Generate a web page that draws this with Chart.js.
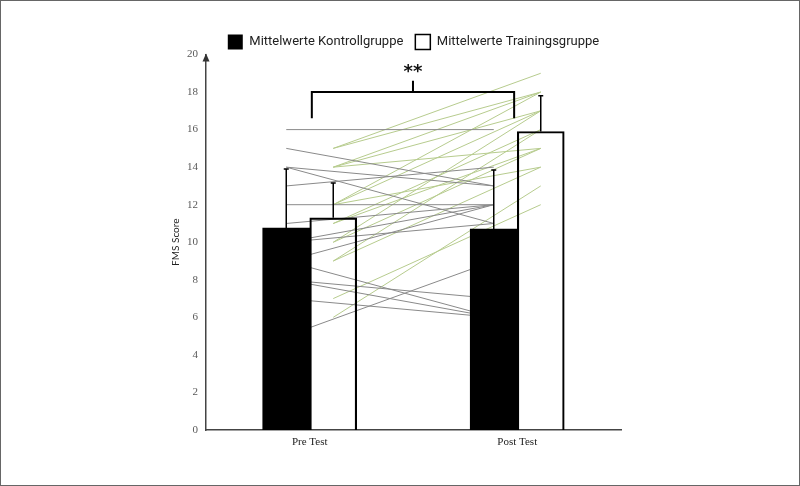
<!DOCTYPE html>
<html lang="de">
<head>
<meta charset="UTF-8">
<title>FMS Score</title>
<style>
  html, body { margin: 0; padding: 0; background: #fff; }
  #wrap { width: 800px; height: 486px; position: relative; }
</style>
</head>
<body>
<div id="wrap"><canvas id="fmsChart"></canvas></div>

<script src="https://cdn.jsdelivr.net/npm/chart.js"></script>
<script>
// --- data ---
const categories = ['Pre Test', 'Post Test'];
const meanKontroll = [10.75, 10.7];
const meanTraining = [11.3, 15.9];
const sdKontroll = [3.15, 3.15];
const sdTraining = [1.85, 1.9];

// individual scores (pre -> post)
const kontrollPre  = [16, 15, 14, 14, 13, 12, 11, 10, 10, 9, 9, 8, 8, 7, 5];
const kontrollPost = [16, 13, 13, 11, 14, 12, 12, 12, 11, 12, 6, 7, 6, 6, 9];
const trainingPre  = [15, 15, 14, 14, 14, 12, 12, 12, 11, 11, 10, 10, 9, 9, 7, 6];
const trainingPost = [19, 18, 18, 17, 15, 18, 17, 14, 16, 15, 17, 15, 16, 14, 12, 13];

const sigLabel = '**';

// --- layout / style ---
const catPct = 0.453;
const off = catPct / 4;   // bar centre offset inside a category

const atCat = (vals, shift) => vals.map((v, i) => ({x: i + shift, y: v}));

const datasets = [
  {
    label: 'Mittelwerte Kontrollgruppe',
    data: atCat(meanKontroll, -off),
    xAxisID: 'xl',
    backgroundColor: '#000',
    borderWidth: 0,
    order: 0
  },
  {
    label: 'Mittelwerte Trainingsgruppe',
    data: atCat(meanTraining, off),
    xAxisID: 'xl',
    backgroundColor: 'rgba(255,255,255,0)',
    borderColor: '#000',
    borderWidth: 1.5,
    order: 0
  }
];

function addLines(pre, post, shift, color) {
  pre.forEach((v, i) => {
    datasets.push({
      type: 'line',
      xAxisID: 'xl',
      data: [{x: 0 + shift, y: v}, {x: 1 + shift, y: post[i]}],
      borderColor: color,
      borderWidth: 1,
      pointRadius: 0,
      order: 2
    });
  });
}
addLines(kontrollPre, kontrollPost, -off, '#8a8a8a');
addLines(trainingPre, trainingPost, off, '#b7cc8e');

const decor = {
  id: 'decor',
  beforeDraw(chart) {
    const ctx = chart.ctx;
    ctx.save();
    ctx.fillStyle = '#fff';
    ctx.fillRect(0, 0, chart.width, chart.height);
    ctx.restore();
  },
  afterLayout(chart) {
    // drop the legend a bit closer to the plot
    const l = chart.legend;
    const shift = 34.5 - (l.top + l.options.labels.padding);
    l.top += shift;
    l.bottom += shift;
  },
  afterDatasetsDraw(chart) {
    const ctx = chart.ctx;
    const y = chart.scales.y;
    const xl = chart.scales.xl;
    ctx.save();
    ctx.strokeStyle = '#000';
    ctx.lineWidth = 1.5;
    [[0, meanKontroll, sdKontroll], [1, meanTraining, sdTraining]].forEach(([di, mean, sd]) => {
      chart.getDatasetMeta(di).data.forEach((bar, i) => {
        const top = y.getPixelForValue(mean[i] + sd[i]);
        ctx.beginPath();
        ctx.moveTo(bar.x, bar.y);
        ctx.lineTo(bar.x, top);
        ctx.moveTo(bar.x - 2.5, top);
        ctx.lineTo(bar.x + 2.5, top);
        ctx.stroke();
      });
    });

    // significance bracket
    const xa = xl.getPixelForValue(0.01);
    const xb = xl.getPixelForValue(0.985);
    const xm = (xa + xb) / 2;
    const yLow = y.getPixelForValue(16.6);
    const yBar = y.getPixelForValue(18);
    const yTick = y.getPixelForValue(18.6);
    ctx.lineWidth = 2;
    ctx.beginPath();
    ctx.moveTo(xa, yLow);
    ctx.lineTo(xa, yBar);
    ctx.lineTo(xb, yBar);
    ctx.lineTo(xb, yLow);
    ctx.moveTo(xm, yBar);
    ctx.lineTo(xm, yTick);
    ctx.stroke();
    ctx.fillStyle = '#111';
    ctx.font = 'bold 18px "DejaVu Sans"';
    ctx.textAlign = 'center';
    ctx.textBaseline = 'alphabetic';
    ctx.fillText(sigLabel, xm, yTick - 4);
    ctx.restore();
  },
  afterDraw(chart) {
    const ctx = chart.ctx;
    const a = chart.chartArea;
    ctx.save();
    // arrow on top of y axis
    ctx.fillStyle = '#333';
    ctx.beginPath();
    ctx.moveTo(a.left, a.top - 1);
    ctx.lineTo(a.left - 3.5, a.top + 7);
    ctx.lineTo(a.left + 3.5, a.top + 7);
    ctx.closePath();
    ctx.fill();
    // frame
    ctx.strokeStyle = '#666';
    ctx.lineWidth = 2;
    ctx.strokeRect(0, 0, chart.width, chart.height);
    ctx.restore();
  }
};

new Chart(document.getElementById('fmsChart'), {
  type: 'bar',
  data: { labels: categories, datasets: datasets },
  options: {
    responsive: true,
    maintainAspectRatio: false,
    animation: false,
    layout: { padding: { left: 150, right: 179, top: 17.5, bottom: 36 } },
    datasets: {
      bar: { grouped: false, barPercentage: 1, categoryPercentage: 1 }
    },
    plugins: {
      tooltip: { enabled: false },
      legend: {
        position: 'top',
        fullSize: false,
        labels: {
          filter: item => item.datasetIndex < 2,
          boxWidth: 15,
          boxHeight: 15,
          padding: 12,
          color: '#222',
          font: { family: 'Roboto', size: 13 }
        }
      }
    },
    scales: {
      x: {
        offset: true,
        grid: { display: false, drawTicks: false },
        border: { display: true, color: '#444', width: 1.5 },
        ticks: { color: '#222', padding: 6, font: { family: '"Liberation Serif"', size: 11 } },
        afterFit(scale) { scale.height = 20; }
      },
      xl: {
        type: 'linear',
        display: false,
        offset: false,
        min: -0.5,
        max: 1.5,
        ticks: { stepSize: 1 }
      },
      y: {
        min: 0,
        max: 20,
        grid: { display: false, drawTicks: false },
        border: { display: true, color: '#444', width: 1.5 },
        ticks: { stepSize: 2, padding: 8, color: '#595959', font: { family: '"Liberation Serif"', size: 11 } },
        title: {
          display: true,
          text: 'FMS Score',
          color: '#222',
          padding: { top: 19.5 },
          font: { family: 'Lato', size: 10 }
        },
        afterFit(scale) { scale.width = 56; }
      }
    }
  },
  plugins: [decor]
});
</script>
</body>
</html>
